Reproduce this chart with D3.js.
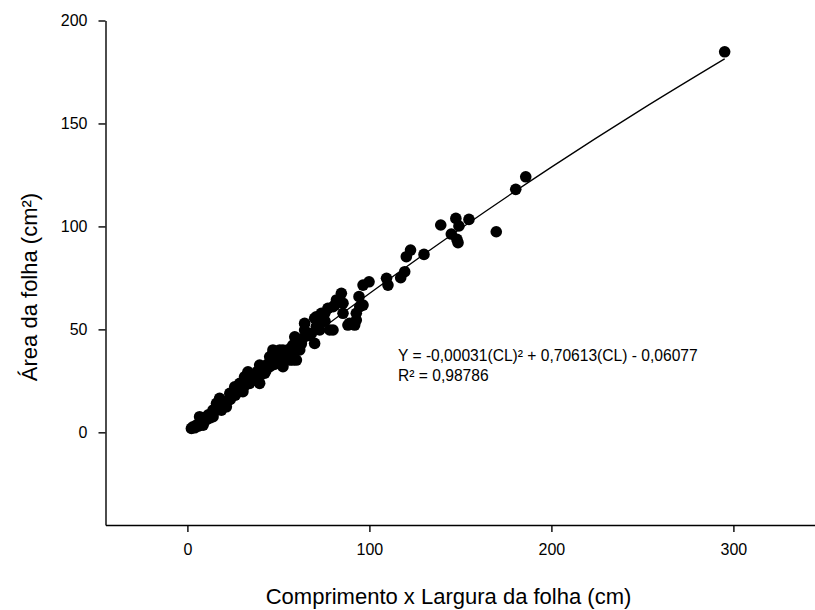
<!DOCTYPE html>
<html><head><meta charset="utf-8">
<script src="https://cdn.jsdelivr.net/npm/d3@7"></script>
<style>body{margin:0;background:#fff}svg{display:block}text{font-family:"Liberation Sans",Arial,sans-serif;fill:#000}</style>
</head><body>
<script>
const cl = [295.2,185.9,180.4,169.7,154.7,147.5,149.2,145.0,148.1,148.7,139.2,130.0,122.6,120.3,119.4,117.2,109.4,110.2,99.8,96.5,94.3,84.6,96.5,89.1,91.9,80.0,75.5,70.8,64.4,69.9,80.0,72.7,85.5,92.8,94.7,92.8,81.0,77.2,73.6,69.9,70.8,78.2,64.4,59.9,58.0,61.7,52.5,47.0,45.2,56.2,39.7,50.7,85.5,81.9,88.2,59.9,
2.2,3.1,7.7,10.5,14.1,16.0,19.6,17.7,23.3,26.0,25.0,28.8,30.5,33.3,34.2,37.0,39.7,42.5,45.2,47.0,48.9,52.5,50.7,54.4,58.0,59.9,59.0,63.5,14.1,21.4,8.6,31.4,27.8,18.7,6.7,33.3,
4.0,5.0,5.9,8.7,10.5,11.5,12.4,14.3,16.1,17.0,18.9,19.8,21.7,23.5,24.5,26.3,27.3,29.1,31.0,31.9,34.7,35.6,37.5,38.4,40.3,41.2,43.1,44.0,45.8,47.7,49.6,51.4,53.3,55.1,57.0,58.8,60.7,62.6,66.3,68.1,71.8,75.6];
const area = [184.8,124.1,118.0,97.4,103.4,103.9,100.2,96.3,93.7,92.1,100.7,86.4,88.5,85.3,78.0,75.1,74.8,71.5,73.1,71.5,65.9,67.5,61.8,52.9,52.1,61.0,57.8,56.1,52.9,43.2,49.7,49.7,62.7,57.8,61.0,54.5,61.8,60.2,57.8,55.4,51.3,49.7,49.7,45.7,42.4,40.0,40.0,40.0,36.7,35.1,32.7,33.5,57.8,64.3,52.1,35.1,
1.9,2.7,5.1,7.6,10.8,14.1,13.3,16.5,18.9,22.1,18.1,23.8,19.7,28.7,23.8,25.4,23.8,28.7,31.9,38.4,35.1,31.9,40.0,36.7,35.1,43.2,46.4,45.7,7.6,12.4,3.5,27.0,19.7,10.8,7.6,29.4,
2.2,3.5,3.0,5.5,6.2,8.5,7.0,9.5,11,12.5,12,14.5,15,16,17.5,18,20.5,21,22,24.5,25,27,28,29.5,28,31,30,33,34,33,37,36,38,40,41,39,44,43,47,48,53,54];
const fitX = [2,50,100,150,200,250,295.2];
const fitY = [1.4,34.4,67.4,98.9,128.8,157.1,181.4];
const xTicks = [0,100,200,300];
const yTicks = [0,50,100,150,200];
const xTitle = "Comprimento x Largura da folha (cm)";
const yTitle = "Área da folha (cm²)";
const eqLines = ["Y = -0,00031(CL)² + 0,70613(CL) - 0,06077","R² = 0,98786"];

const W=815,H=610;
const svg=d3.select("body").append("svg").attr("width",W).attr("height",H);
const x=d3.scaleLinear().domain([-45,345]).range([105.5,815.3]);
const y=d3.scaleLinear().domain([-45,200]).range([525,20.5]);

// axes
const xa=svg.append("g").attr("transform","translate(0,525)")
  .call(d3.axisBottom(x).tickValues(xTicks).tickSize(7).tickPadding(12).tickSizeOuter(0));
const ya=svg.append("g").attr("transform","translate(105.5,0)")
  .call(d3.axisLeft(y).tickValues(yTicks).tickSize(7).tickPadding(11).tickSizeOuter(0));
[xa,ya].forEach(g=>{g.select(".domain").attr("stroke","#000").attr("stroke-width",1.4);
  g.selectAll(".tick line").attr("stroke","#000").attr("stroke-width",1.4);
  g.selectAll(".tick text").attr("font-size",16).attr("font-family","Liberation Sans, Arial, sans-serif").attr("fill","#000");});

// points
svg.append("g").selectAll("circle").data(cl.map((d,i)=>[d,area[i]])).join("circle")
  .attr("cx",d=>x(d[0])).attr("cy",d=>y(d[1])).attr("r",5.8).attr("fill","#000");

// fit line
svg.append("path").datum(fitX.map((d,i)=>[d,fitY[i]]))
  .attr("d",d3.line().x(d=>x(d[0])).y(d=>y(d[1])).curve(d3.curveMonotoneX))
  .attr("fill","none").attr("stroke","#000").attr("stroke-width",1.3);

// equation
svg.append("g").selectAll("text").data(eqLines).join("text")
  .attr("x",398).attr("y",(d,i)=>360.5+i*20).attr("font-size",15.6).text(d=>d);

// titles
svg.append("text").attr("x",448.5).attr("y",604).attr("text-anchor","middle").attr("font-size",22).text(xTitle);
svg.append("text").attr("transform","translate(37,287) rotate(-90)").attr("text-anchor","middle").attr("font-size",22).text(yTitle);
</script>
</body></html>
